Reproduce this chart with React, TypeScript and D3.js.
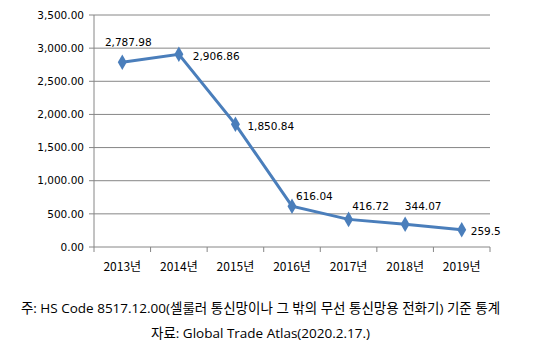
import React from "react";
import * as d3 from "d3";

const categories = ["2013년", "2014년", "2015년", "2016년", "2017년", "2018년", "2019년"];
const values = [2787.98, 2906.86, 1850.84, 616.04, 416.72, 344.07, 259.5];
const valueLabels = ["2,787.98", "2,906.86", "1,850.84", "616.04", "416.72", "344.07", "259.5"];
const yTicks = [0, 500, 1000, 1500, 2000, 2500, 3000, 3500];
const noteLines = [
  "주: HS Code 8517.12.00(셀룰러 통신망이나 그 밖의 무선 통신망용 전화기) 기준 통계",
  "자료: Global Trade Atlas(2020.2.17.)",
];
// label placement per point (layout only)
const labelOffsets: [number, number, string][] = [
  [6, -20, "middle"],
  [14, 2, "start"],
  [12, 2, "start"],
  [4, -10, "start"],
  [22, -13, "middle"],
  [18, -18, "middle"],
  [9, 2, "start"],
];

export default function App() {
  const W = 537, H = 357;
  const left = 94, right = 490, top = 15, bottom = 247;
  const x = d3.scaleBand().domain(categories).range([left, right]);
  const y = d3.scaleLinear().domain([0, 3500]).range([bottom, top]);
  const fmt = d3.format(",.2f");
  const line = d3
    .line<number>()
    .x((_, i) => x(categories[i])! + x.bandwidth() / 2)
    .y((d) => y(d));
  const diamond = d3.symbol().type(d3.symbolDiamond).size(70)()!;
  const grid = "#868686";
  const color = "#4a7ebb";
  const tickFont = "DejaVu Sans, Verdana, sans-serif";
  return (
    <svg width={W} height={H} style={{ position: "absolute", left: 0, top: 0, background: "#fff" }}>
      {yTicks.map((t) => (
        <g key={t}>
          <line x1={left - 5} x2={right} y1={y(t)} y2={y(t)} stroke={grid} strokeWidth={1} />
          <text x={left - 10} y={y(t)} dy="0.35em" textAnchor="end" fontFamily={tickFont} fontSize={10.5} fill="#000">
            {fmt(t)}
          </text>
        </g>
      ))}
      <line x1={left} x2={left} y1={top} y2={bottom} stroke={grid} />
      {categories.map((c) => (
        <line key={c} x1={x(c)!} x2={x(c)!} y1={bottom} y2={bottom + 5} stroke={grid} />
      ))}
      <line x1={right} x2={right} y1={bottom} y2={bottom + 5} stroke={grid} />
      {categories.map((c) => (
        <text
          key={c}
          x={x(c)! + x.bandwidth() / 2}
          y={271}
          textAnchor="middle"
          fontFamily="Noto Sans CJK KR, sans-serif"
          fontSize={12}
          fill="#000"
        >
          {c}
        </text>
      ))}
      <path d={line(values)!} fill="none" stroke={color} strokeWidth={3} />
      {values.map((v, i) => (
        <path
          key={i}
          d={diamond}
          transform={`translate(${x(categories[i])! + x.bandwidth() / 2},${y(v)})`}
          fill={color}
        />
      ))}
      {values.map((v, i) => {
        const [dx, dy, anchor] = labelOffsets[i];
        return (
          <text
            key={"l" + i}
            x={x(categories[i])! + x.bandwidth() / 2 + dx}
            y={y(v) + dy}
            dy="0.35em"
            textAnchor={anchor as any}
            fontFamily={tickFont}
            fontSize={10.5}
            fill="#000"
          >
            {valueLabels[i]}
          </text>
        );
      })}
      {noteLines.map((t, i) => (
        <text
          key={t}
          x={260.5}
          y={308 + i * 25}
          dy="0.35em"
          textAnchor="middle"
          fontFamily="Open Sans, Noto Sans CJK KR, sans-serif"
          fontSize={13.5}
          fill="#000"
        >
          {t}
        </text>
      ))}
    </svg>
  );
}
